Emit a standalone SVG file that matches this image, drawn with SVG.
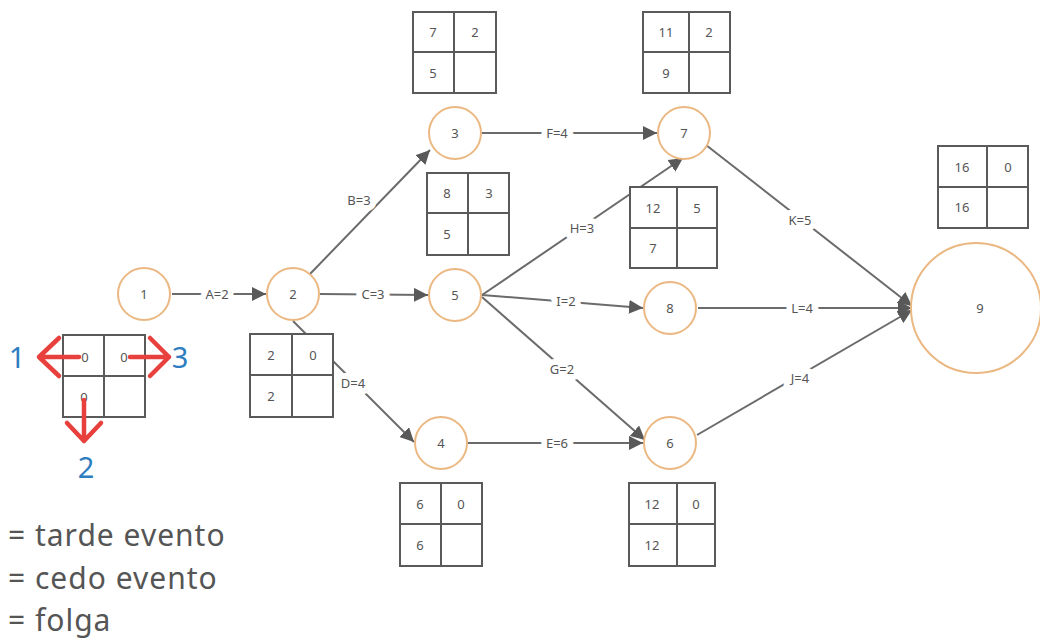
<svg xmlns="http://www.w3.org/2000/svg" width="1040" height="641" viewBox="0 0 1040 641">
  <style>
    .node circle { fill: #fff; stroke: #ebb882; stroke-width: 2; }
    .node text, .box text { font-family: "Noto Sans", "Open Sans", sans-serif; font-size: 13px; fill: #555; text-anchor: middle; dominant-baseline: central; }
    .box rect { fill: #fff; stroke: #5a5a5a; stroke-width: 2; }
    .box line { stroke: #5a5a5a; stroke-width: 2; }
    .edges line { stroke: #6b6b6b; stroke-width: 2; }
    .elabel { font-family: "Noto Sans", "Open Sans", sans-serif; font-size: 13px; fill: #555; text-anchor: middle; dominant-baseline: central; stroke: #fff; stroke-width: 12; paint-order: stroke; stroke-linejoin: round; }
    .red { stroke: #e8403d; stroke-width: 4.5; fill: none; stroke-linecap: round; stroke-linejoin: round; }
    .blue { font-family: "Noto Sans", "Open Sans", sans-serif; font-size: 29px; fill: #2e7dbf; text-anchor: middle; }
    .legend { font-family: "Noto Sans", "Open Sans", sans-serif; font-size: 30px; letter-spacing: 1px; fill: #555; }
  </style>
  <defs>
    <marker id="arrow" viewBox="0 0 10 10" refX="10" refY="5" markerWidth="7" markerHeight="7" markerUnits="strokeWidth" orient="auto">
      <path d="M0,0 L10,5 L0,10 z" fill="#595959"/>
    </marker>
  </defs>

  <!-- connectors (drawn first so boxes sit on top) -->
  <g id="edges" class="edges">
    <line x1="172" y1="294" x2="266" y2="294" marker-end="url(#arrow)"/>
    <line x1="310" y1="274" x2="430" y2="150" marker-end="url(#arrow)"/>
    <line x1="320" y1="294" x2="428" y2="295" marker-end="url(#arrow)"/>
    <line x1="293" y1="321" x2="414" y2="442" marker-end="url(#arrow)"/>
    <line x1="468" y1="443" x2="643" y2="443" marker-end="url(#arrow)"/>
    <line x1="482" y1="133" x2="657" y2="133" marker-end="url(#arrow)"/>
    <line x1="482" y1="297" x2="645" y2="440" marker-end="url(#arrow)"/>
    <line x1="482" y1="295" x2="683" y2="158" marker-end="url(#arrow)"/>
    <line x1="482" y1="295" x2="643" y2="308" marker-end="url(#arrow)"/>
    <line x1="697" y1="435" x2="912" y2="310" marker-end="url(#arrow)"/>
    <line x1="706" y1="145" x2="912" y2="306" marker-end="url(#arrow)"/>
    <line x1="698" y1="308" x2="912" y2="308" marker-end="url(#arrow)"/>
  </g>

  <!-- activity labels -->
  <g id="edge-labels">
    <text class="elabel" x="217" y="294">A=2</text>
    <text class="elabel" x="359" y="200">B=3</text>
    <text class="elabel" x="373" y="294">C=3</text>
    <text class="elabel" x="353" y="383">D=4</text>
    <text class="elabel" x="557" y="443">E=6</text>
    <text class="elabel" x="557" y="133">F=4</text>
    <text class="elabel" x="562" y="369">G=2</text>
    <text class="elabel" x="582" y="228">H=3</text>
    <text class="elabel" x="566" y="301">I=2</text>
    <text class="elabel" x="800" y="378">J=4</text>
    <text class="elabel" x="800" y="220">K=5</text>
    <text class="elabel" x="802" y="308">L=4</text>
  </g>

  <!-- events -->
  <g id="n1" class="node"><circle cx="144" cy="294" r="26"/><text x="144" y="294">1</text></g>
  <g id="n2" class="node"><circle cx="293" cy="294" r="26"/><text x="293" y="294">2</text></g>
  <g id="n3" class="node"><circle cx="455" cy="133" r="26"/><text x="455" y="133">3</text></g>
  <g id="n4" class="node"><circle cx="441" cy="443" r="26"/><text x="441" y="443">4</text></g>
  <g id="n5" class="node"><circle cx="455" cy="295" r="26"/><text x="455" y="295">5</text></g>
  <g id="n6" class="node"><circle cx="670" cy="443" r="26"/><text x="670" y="443">6</text></g>
  <g id="n7" class="node"><circle cx="684" cy="133" r="26"/><text x="684" y="133">7</text></g>
  <g id="n8" class="node"><circle cx="670" cy="308" r="26"/><text x="670" y="308">8</text></g>
  <g id="n9" class="node"><circle cx="976" cy="308" r="65"/><text x="980" y="308">9</text></g>

  <!-- event tables: late | slack / early -->
  <g id="t1" class="box"><rect x="63" y="335" width="82" height="82"/><line x1="104" y1="335" x2="104" y2="417"/><line x1="63" y1="376" x2="145" y2="376"/>
    <text x="85" y="357">0</text><text x="124" y="357">0</text><text x="84" y="397">0</text></g>
  <g id="t2" class="box"><rect x="250" y="334" width="83" height="83"/><line x1="292" y1="334" x2="292" y2="417"/><line x1="250" y1="375" x2="333" y2="375"/>
    <text x="271" y="355">2</text><text x="313" y="355">0</text><text x="271" y="396">2</text></g>
  <g id="t3" class="box"><rect x="413" y="12" width="83" height="81"/><line x1="454" y1="12" x2="454" y2="93"/><line x1="413" y1="52" x2="496" y2="52"/>
    <text x="433" y="32">7</text><text x="475" y="32">2</text><text x="433" y="73">5</text></g>
  <g id="t5" class="box"><rect x="427" y="173" width="82" height="82"/><line x1="468" y1="173" x2="468" y2="255"/><line x1="427" y1="213" x2="509" y2="213"/>
    <text x="447" y="193">8</text><text x="489" y="193">3</text><text x="447" y="234">5</text></g>
  <g id="t7" class="box"><rect x="643" y="12" width="87" height="81"/><line x1="689" y1="12" x2="689" y2="93"/><line x1="643" y1="52" x2="730" y2="52"/>
    <text x="666" y="32">11</text><text x="709" y="32">2</text><text x="666" y="73">9</text></g>
  <g id="t8" class="box"><rect x="630" y="187" width="87" height="81"/><line x1="677" y1="187" x2="677" y2="268"/><line x1="630" y1="228" x2="717" y2="228"/>
    <text x="653" y="208">12</text><text x="697" y="208">5</text><text x="653" y="248">7</text></g>
  <g id="t9" class="box"><rect x="938" y="146" width="90" height="82"/><line x1="987" y1="146" x2="987" y2="228"/><line x1="938" y1="187" x2="1028" y2="187"/>
    <text x="962" y="167">16</text><text x="1008" y="167">0</text><text x="962" y="207">16</text></g>
  <g id="t4" class="box"><rect x="400" y="483" width="82" height="83"/><line x1="441" y1="483" x2="441" y2="566"/><line x1="400" y1="524" x2="482" y2="524"/>
    <text x="420" y="504">6</text><text x="461" y="504">0</text><text x="420" y="545">6</text></g>
  <g id="t6" class="box"><rect x="629" y="483" width="86" height="83"/><line x1="677" y1="483" x2="677" y2="566"/><line x1="629" y1="524" x2="715" y2="524"/>
    <text x="652" y="504">12</text><text x="696" y="504">0</text><text x="652" y="545">12</text></g>

  <!-- key: which cell holds which value -->
  <g id="key">
    <path class="red" d="M79,357 L39,357 M59,338 L39,357 L59,376"/>
    <path class="red" d="M130,357 L169,357 M150,338 L169,357 L150,376"/>
    <path class="red" d="M84,400 L84,441 M67,423 L84,441 L101,423"/>
    <text class="blue" x="17" y="368">1</text>
    <text class="blue" x="180" y="368">3</text>
    <text class="blue" x="86" y="478">2</text>
    <text class="legend" x="8" y="546">= tarde evento</text>
    <text class="legend" x="8" y="589">= cedo evento</text>
    <text class="legend" x="8" y="631">= folga</text>
  </g>
</svg>
